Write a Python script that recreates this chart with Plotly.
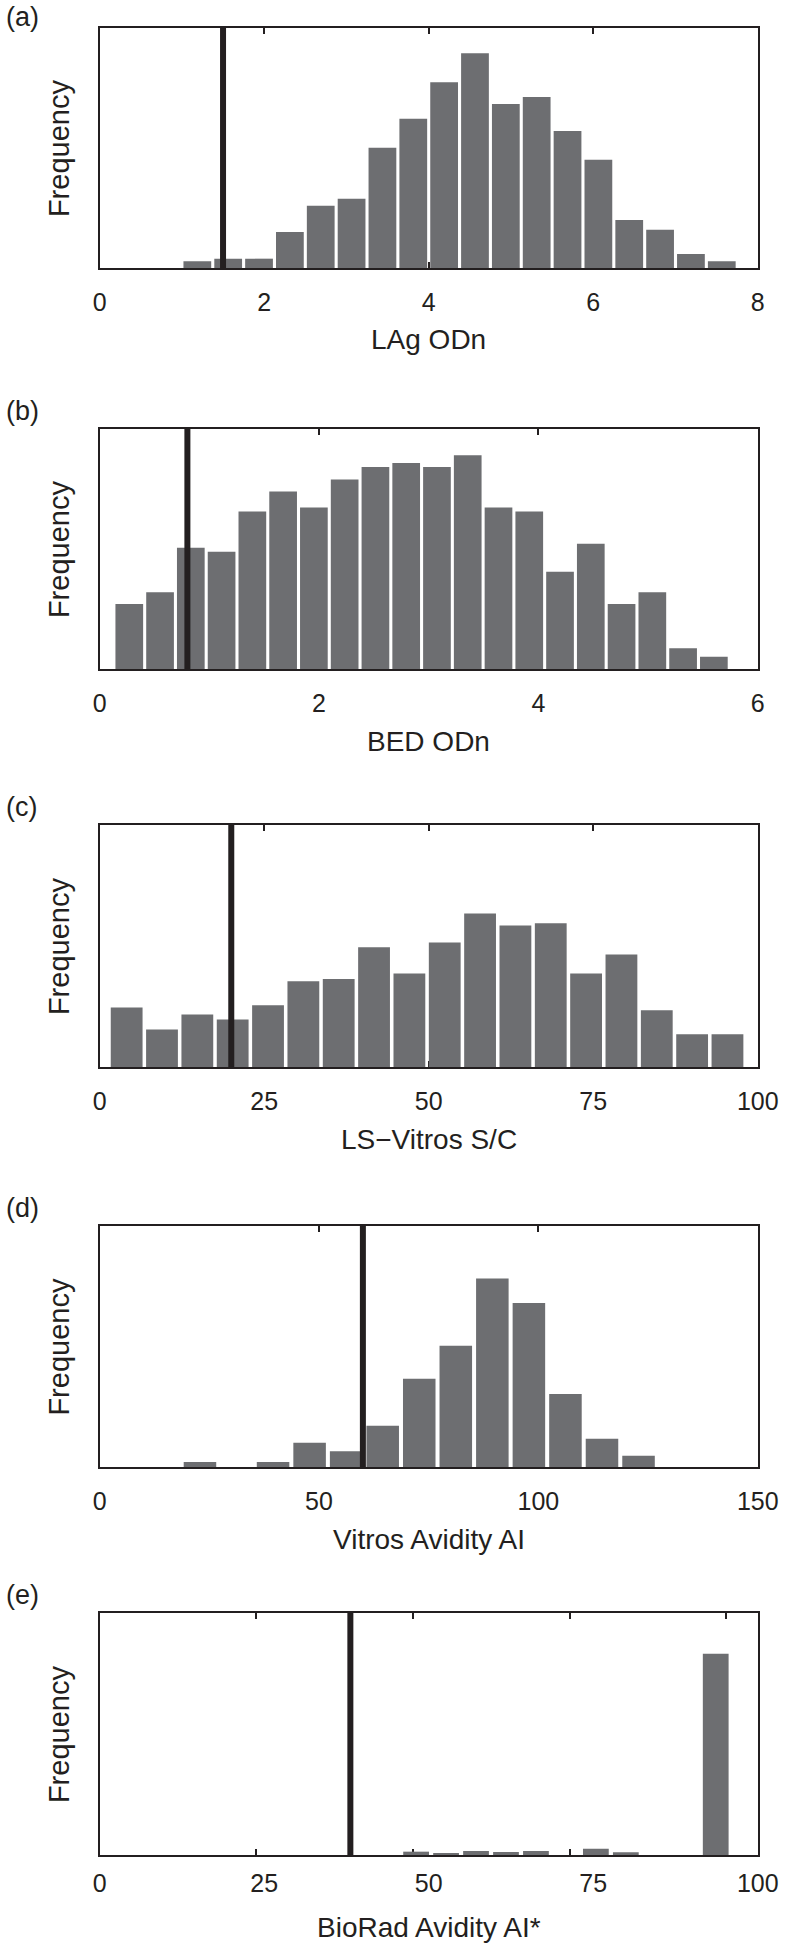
import plotly.graph_objects as go

# (a) LAg ODn histogram: first bin edge, bin width, bar heights (no y scale in the figure)
lag_start = 1.0
lag_binw = 0.375
lag_freq = [20, 28, 28, 108, 187, 208, 361, 448, 557, 644, 492, 513, 411, 325, 144, 115, 42, 20]
lag_cut = 1.5

# (b) BED ODn
bed_start = 0.13
bed_binw = 0.2805
bed_freq = [195, 230, 363, 351, 472, 532, 484, 568, 605, 617, 605, 640, 484, 472, 291, 375, 195, 230, 62, 37]
bed_cut = 0.8

# (c) LS-Vitros S/C
lsv_start = 1.42
lsv_binw = 5.37
lsv_freq = [178, 112, 157, 142, 185, 257, 264, 359, 280, 373, 460, 424, 431, 280, 337, 170, 98, 98]
lsv_cut = 20

# (d) Vitros Avidity AI
vav_start = 18.7
vav_binw = 8.33
vav_freq = [15, 0, 15, 73, 47, 124, 265, 364, 566, 493, 219, 85, 34]
vav_cut = 60

# (e) BioRad Avidity AI*
bra_start = 48.1
bra_binw = 4.78
bra_freq = [10, 6, 12, 9, 12, 0, 19, 8, 0, 0, 603]
bra_cut = 40

letters = ["(a)", "(b)", "(c)", "(d)", "(e)"]
xtitles = ["LAg ODn", "BED ODn", "LS\u2212Vitros S/C", "Vitros Avidity AI", "BioRad Avidity AI*"]
xranges = [[0, 8], [0, 6], [0, 100], [0, 150], [0, 105]]
xticks = [[0, 2, 4, 6, 8], [0, 2, 4, 6], [0, 25, 50, 75, 100], [0, 50, 100, 150], [25, 50, 75, 100]]
ytops = [720, 719, 725, 724, 725]
# panel (e) labels are spread over 0..100 while its ticks follow the 0..105 data scale
e_label_range = [0, 100]
e_label_ticks = [0, 25, 50, 75, 100]

panels = [
    (lag_start, lag_binw, lag_freq, lag_cut, 0.9),
    (bed_start, bed_binw, bed_freq, bed_cut, 0.9),
    (lsv_start, lsv_binw, lsv_freq, lsv_cut, 0.9),
    (vav_start, vav_binw, vav_freq, vav_cut, 0.89),
    (bra_start, bra_binw, bra_freq, bra_cut, 0.86),
]

W, H = 800, 1947
top_px = [28, 429, 825, 1226, 1613]
bot_px = [268, 669, 1067, 1467, 1855]
xdom = [96 / W, 778 / W]

ink = "#231f20"
bar_col = "#6d6e71"
font_fam = "Liberation Sans, Arial, sans-serif"

fig = go.Figure()
layout = dict(
    width=W, height=H,
    margin=dict(l=0, r=0, t=0, b=0),
    paper_bgcolor="white", plot_bgcolor="white",
    showlegend=False,
    font=dict(family=font_fam, color=ink),
)
shapes = []
annotations = []

for i, (start, binw, freq, cut, fill) in enumerate(panels):
    n = i + 1
    xa = "x" if n == 1 else "x%d" % n
    ya = "y" if n == 1 else "y%d" % n
    centers = [start + binw * (k + 0.5) for k in range(len(freq))]
    fig.add_trace(go.Bar(
        x=centers, y=freq, width=[binw * fill] * len(freq),
        marker=dict(color=bar_col, line=dict(width=0)),
        xaxis=xa, yaxis=ya, hoverinfo="skip",
    ))

    ydom = [1 - bot_px[i] / H, 1 - top_px[i] / H]
    layout["xaxis" if n == 1 else "xaxis%d" % n] = dict(
        domain=xdom, anchor=ya, range=xranges[i], tickvals=xticks[i],
        showline=True, linecolor=ink, linewidth=2, mirror="ticks",
        ticks="inside", ticklen=6, tickwidth=1.5, tickcolor=ink,
        showgrid=False, zeroline=False, layer="below traces",
        tickfont=dict(size=25, color=ink), ticklabelstandoff=11,
        showticklabels=(n != 5),
    )
    layout["yaxis" if n == 1 else "yaxis%d" % n] = dict(
        domain=ydom, anchor=xa, range=[0, ytops[i]],
        showline=True, linecolor=ink, linewidth=2, mirror=True,
        ticks="", showticklabels=False, showgrid=False, zeroline=False,
    )

    shapes.append(dict(
        type="line", xref=xa, yref=ya + " domain",
        x0=cut, x1=cut, y0=0, y1=1,
        line=dict(color=ink, width=6), layer="above",
    ))

    # panel letter just above the frame; the first one hangs from the page top
    if i == 0:
        ly, lanchor = 1.0, "top"
    else:
        ly, lanchor = 1 - (top_px[i] - 1) / H, "bottom"
    annotations.append(dict(
        text=letters[i], xref="paper", yref="paper",
        x=0, y=ly, xanchor="left", yanchor=lanchor,
        xshift=-3, showarrow=False, font=dict(size=27, color=ink),
    ))
    annotations.append(dict(
        text="Frequency", xref="paper", yref="paper", textangle=-90,
        x=54 / W, y=(ydom[0] + ydom[1]) / 2, xanchor="center", yanchor="middle",
        showarrow=False, font=dict(size=29, color=ink),
    ))
    annotations.append(dict(
        text=xtitles[i], xref="paper", yref="paper",
        x=(xdom[0] + xdom[1]) / 2, y=1 - (bot_px[i] + 72) / H,
        xanchor="center", yanchor="middle",
        showarrow=False, font=dict(size=28, color=ink),
    ))

# label-only axis for panel (e)
fig.add_trace(go.Scatter(x=[None], y=[None], xaxis="x6", yaxis="y5",
                         mode="markers", hoverinfo="skip"))
layout["xaxis6"] = dict(
    overlaying="x5", anchor="y5", side="bottom", range=e_label_range,
    tickvals=e_label_ticks, ticks="", showline=False, showgrid=False,
    zeroline=False, tickfont=dict(size=25, color=ink), ticklabelstandoff=11,
)

layout["shapes"] = shapes
layout["annotations"] = annotations
fig.update_layout(**layout)

# drop the browser's default 8px body margin so the figure sits at the page corner
fig.write_html("out.html", config={"displayModeBar": False},
               post_script="document.body.style.margin='0';")
